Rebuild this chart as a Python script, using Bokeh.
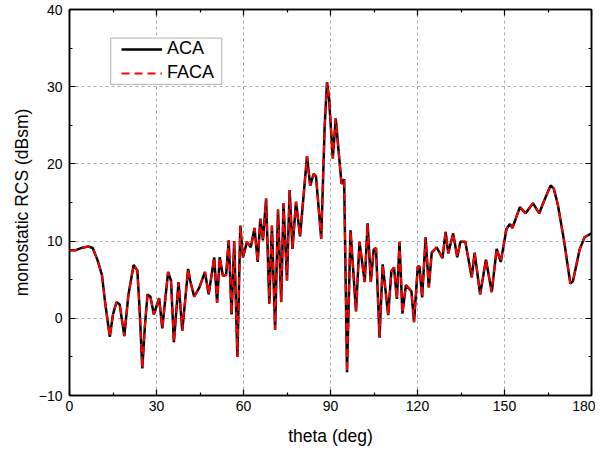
from bokeh.plotting import figure
from bokeh.models import (Legend, LegendItem, LinearAxis, FixedTicker, ColumnDataSource,
                          CustomJSTickFormatter, BoxAnnotation)
from bokeh.embed import file_html
from bokeh.resources import INLINE

theta = [0, 2, 4, 6.5, 8, 9.6, 11.2, 12.3, 13.9, 15.0, 16.2, 17.3, 18.9, 20.3, 22.1, 23.4, 24.2, 25.1,
         26.0, 26.9, 27.9, 29.1, 30.9, 32.0, 34.0, 35.0, 36.0, 37.6, 38.9, 40.9, 41.6, 43.0, 44.8,
         46.7, 48.0, 49.9, 50.9, 51.8, 52.9, 54.0, 54.9, 55.9, 56.8, 57.9, 58.9, 59.8, 61.2, 62.5,
         63.8, 64.9, 65.8, 66.7, 67.8, 68.9, 69.8, 70.9, 71.9, 73.0, 73.8, 75.0, 75.9, 76.9, 78.1,
         79.5, 81.9, 83.0, 84.2, 85.0, 86.8, 88.0, 88.8, 89.5, 90.8, 91.8, 93.8, 94.7, 95.7, 96.9,
         98.8, 100.0, 101.8, 102.8, 103.9, 104.9, 105.7, 106.9, 108.0, 109.9, 111.0, 111.9, 112.9,
         113.8, 114.8, 116.0, 117.9, 118.8, 120.1, 120.7, 121.6, 122.8, 123.9, 124.9, 126.6, 128.6,
         129.7, 130.6, 132.3, 133.7, 134.8, 136.5, 138.7, 139.7, 141.6, 143.6, 145.6, 147.3, 148.7,
         150.7, 151.9, 152.7, 153.5, 155.3, 157.3, 159.8, 162.0, 163.2, 165.9, 167.0, 168.4, 170.6,
         172.7, 173.6, 175.9, 177.6, 180.0]
rcs_aca = [8.8, 8.8, 9.1, 9.3, 9.1, 7.6, 5.6, 2.0, -2.4, 0.5, 2.1, 1.8, -2.3, 3.0, 6.9, 6.2, 1.0, -6.5,
           -1.0, 3.1, 2.8, 0.5, 2.6, -1.3, 6.0, 4.9, -3.1, 4.7, -1.6, 6.4, 4.9, 2.8, 4.0,
           6.0, 3.1, 7.9, 2.0, 7.9, 5.5, 5.6, 10.1, 0.5, 10.0, -5.0, 12.0, 7.9, 9.9, 9.2,
           11.7, 7.3, 12.9, 10.1, 15.5, 1.9, 12.0, -1.5, 14.1, 2.1, 14.9, 4.9, 16.6, 9.0, 15.1,
           10.6, 21.0, 17.2, 18.7, 18.4, 10.3, 25.0, 30.6, 28.5, 20.7, 25.9, 17.4, 18.0, -7.0, 11.4,
           0.9, 9.9, 4.7, 12.3, 4.7, 8.9, 9.1, -2.5, 7.0, 0.4, 6.1, 6.6, 2.5,
           9.9, 0.6, 4.3, 3.5, -0.5, 6.7, 6.7, 2.7, 10.5, 4.0, 8.5, 9.2, 7.8,
           11.2, 8.4, 11.0, 7.9, 9.9, 9.9, 5.3, 8.5, 3.1, 7.6, 3.4, 9.0, 7.3,
           11.6, 12.2, 11.7, 12.5, 14.4, 13.6, 14.9, 13.6, 14.8, 17.2, 16.8, 14.7, 9.9,
           4.5, 4.8, 8.9, 10.5, 11.0]
rcs_faca = list(rcs_aca)

x_ticks = [0, 30, 60, 90, 120, 150, 180]
x_minor = [15, 45, 75, 105, 135, 165]
y_ticks = [-10, 0, 10, 20, 30, 40]
y_minor = [-5, 5, 15, 25, 35]

FONT = "Liberation Sans"

p = figure(frame_width=522, frame_height=386,
           x_range=(0, 180), y_range=(-10, 40),
           output_backend="svg", toolbar_location=None,
           min_border_left=69, min_border_right=4, min_border_top=9, min_border_bottom=51)
p.outline_line_color = "black"
p.outline_line_width = 1.5
p.background_fill_color = "white"
p.border_fill_color = "white"

src = ColumnDataSource(dict(theta=theta, aca=rcs_aca, faca=rcs_faca))
r1 = p.line("theta", "aca", source=src, line_color="black", line_width=2.5)
r2 = p.line("theta", "faca", source=src, line_color="#ff0000", line_width=2, line_dash="8 5")

xt = FixedTicker(ticks=x_ticks, minor_ticks=x_minor)
yt = FixedTicker(ticks=y_ticks, minor_ticks=y_minor)

def style_axis(ax, labels=True):
    ax.axis_line_color = "black"
    ax.axis_line_width = 1.5
    ax.major_tick_in = 6
    ax.major_tick_out = 0
    ax.minor_tick_in = 3
    ax.minor_tick_out = 0
    ax.major_tick_line_color = "black"
    ax.minor_tick_line_color = "black"
    ax.major_tick_line_width = 1.2
    ax.minor_tick_line_width = 1.2
    if labels:
        ax.major_label_text_font = FONT
        ax.major_label_text_font_size = "14px"
        ax.major_label_text_color = "black"
        ax.axis_label_text_font = FONT
        ax.axis_label_text_font_size = "17.5px"
        ax.axis_label_text_font_style = "normal"
        ax.axis_label_text_color = "black"
    else:
        ax.formatter = CustomJSTickFormatter(code="return ''")
        ax.major_label_standoff = 0

p.xaxis.ticker = xt
p.yaxis.ticker = yt
style_axis(p.xaxis[0])
style_axis(p.yaxis[0])
p.xaxis.axis_label = "theta (deg)"
p.yaxis.axis_label = "monostatic RCS (dBsm)"
p.xaxis.major_label_standoff = 5
p.yaxis.major_label_standoff = 7
p.xaxis.axis_label_standoff = 12
p.yaxis.axis_label_standoff = 4

top = LinearAxis(ticker=xt)
style_axis(top, labels=False)
p.add_layout(top, "above")
right = LinearAxis(ticker=yt)
style_axis(right, labels=False)
p.add_layout(right, "right")

p.xgrid.ticker = xt
p.ygrid.ticker = yt
for g in (p.xgrid[0], p.ygrid[0]):
    g.grid_line_color = "#a8a8a8"
    g.grid_line_dash = "3 3"
    g.grid_line_width = 1

box = BoxAnnotation(left=14.2, right=52.5, top=36.3, bottom=30.3,
                    fill_color="white", fill_alpha=1, line_color="black", line_width=1)
p.add_layout(box)

legend = Legend(items=[LegendItem(label="ACA", renderers=[r1]),
                       LegendItem(label="FACA", renderers=[r2])],
                location=(52, 312), margin=0, padding=0, spacing=3,
                glyph_width=41, glyph_height=18, label_height=18, label_standoff=5,
                label_text_font=FONT, label_text_font_size="18px", label_text_color="black",
                border_line_color=None, background_fill_alpha=0)
p.add_layout(legend)

open("out.html", "w").write(file_html(p, INLINE))
